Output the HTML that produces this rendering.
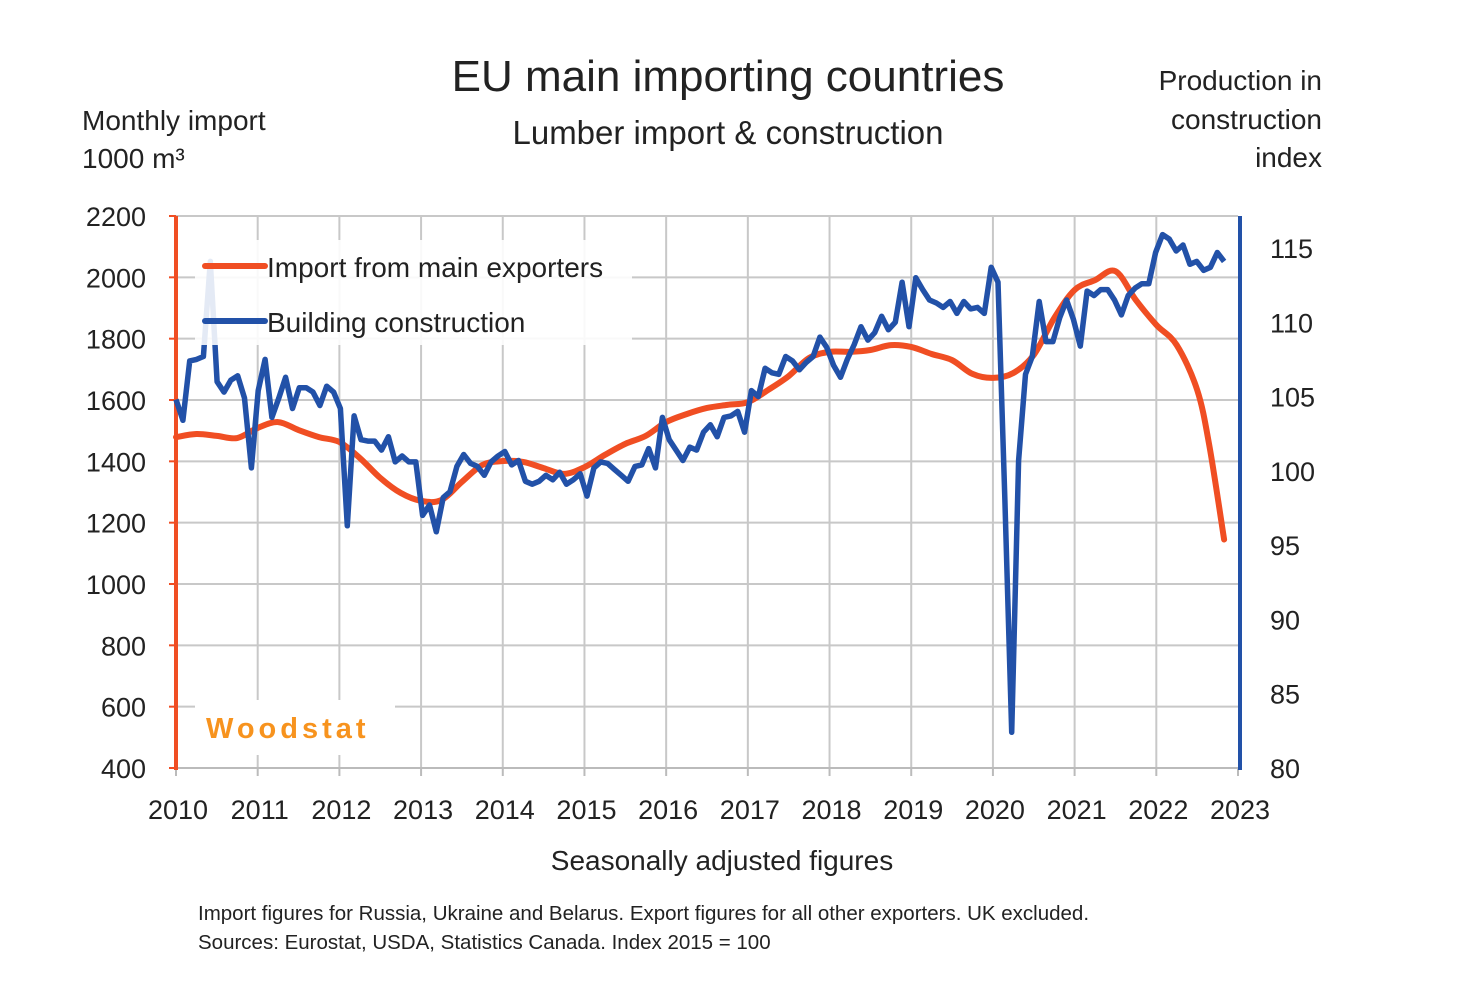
<!DOCTYPE html>
<html><head><meta charset="utf-8"><style>
body{margin:0;background:#fff;}
svg text{font-family:"Liberation Sans",sans-serif;fill:#222;}
</style></head><body>
<svg id="c" width="1479" height="988" viewBox="0 0 1479 988" xmlns="http://www.w3.org/2000/svg">
<text x="728" y="91" font-size="44" text-anchor="middle">EU main importing countries</text>
<text x="728" y="144" font-size="33" text-anchor="middle">Lumber import &amp; construction</text>
<text x="82" y="130" font-size="28">Monthly import</text>
<text x="82" y="168" font-size="28">1000 m³</text>
<text x="1322" y="90" font-size="28" text-anchor="end">Production in</text>
<text x="1322" y="129" font-size="28" text-anchor="end">construction</text>
<text x="1322" y="167" font-size="28" text-anchor="end">index</text>
<g id="grid"></g>
<g id="series"></g>
<rect x="195" y="240" width="437" height="105" fill="#fff" fill-opacity="0.88"/>
<line x1="205" y1="266" x2="265" y2="266" stroke="#f04e23" stroke-width="6" stroke-linecap="round"/>
<text x="267" y="277" font-size="28">Import from main exporters</text>
<line x1="205" y1="321" x2="265" y2="321" stroke="#2251a8" stroke-width="6" stroke-linecap="round"/>
<text x="267" y="332" font-size="28">Building construction</text>
<rect x="195" y="700" width="200" height="55" fill="#fff"/>
<text x="206" y="738" font-size="29" font-weight="bold" style="fill:#f7931e;letter-spacing:4px">Woodstat</text>
<text x="722" y="870" font-size="28" text-anchor="middle">Seasonally adjusted figures</text>
<text x="198" y="920" font-size="20.5">Import figures for Russia, Ukraine and Belarus. Export figures for all other exporters. UK excluded.</text>
<text x="198" y="949" font-size="20.5">Sources: Eurostat, USDA, Statistics Canada. Index 2015 = 100</text>
</svg>
<script>
const years=[2010,2011,2012,2013,2014,2015,2016,2017,2018,2019,2020,2021,2022,2023];
const leftTicks=[400,600,800,1000,1200,1400,1600,1800,2000,2200];
const rightTicks=[80,85,90,95,100,105,110,115];
const importYears=[2010,2010.25,2010.5,2010.75,2011,2011.25,2011.5,2011.75,2012,2012.25,2012.5,2012.75,2013,2013.25,2013.5,2013.75,2014,2014.25,2014.5,2014.75,2015,2015.25,2015.5,2015.75,2016,2016.25,2016.5,2016.75,2017,2017.25,2017.5,2017.75,2018,2018.25,2018.5,2018.75,2019,2019.25,2019.5,2019.75,2020,2020.25,2020.5,2020.75,2021,2021.25,2021.5,2021.75,2022,2022.25,2022.5,2022.65,2022.83];
const importValues=[1479,1489,1483,1476,1509,1528,1502,1479,1463,1411,1346,1297,1271,1274,1333,1388,1401,1398,1378,1359,1381,1421,1457,1483,1528,1554,1574,1584,1593,1633,1678,1737,1757,1757,1763,1779,1773,1750,1730,1685,1672,1688,1747,1867,1959,1991,2020,1926,1845,1779,1633,1450,1145];
const constructionStart=2010, constructionEnd=2022.83;
const constructionValues=[104.8,103.4,107.4,107.5,107.7,114.1,106,105.3,106.1,106.4,104.9,100.2,105.4,107.5,103.6,104.9,106.3,104.2,105.6,105.6,105.3,104.4,105.7,105.3,104.2,96.3,103.7,102.1,102,102,101.4,102.3,100.6,101,100.6,100.6,97,97.7,95.9,98.2,98.6,100.3,101.1,100.5,100.3,99.7,100.6,101,101.3,100.4,100.7,99.3,99.1,99.3,99.7,99.4,99.9,99.1,99.4,99.8,98.3,100.2,100.6,100.5,100.1,99.7,99.3,100.3,100.4,101.5,100.2,103.6,102.1,101.4,100.7,101.6,101.4,102.6,103.1,102.3,103.6,103.7,104,102.6,105.4,105,106.9,106.6,106.5,107.7,107.4,106.8,107.3,107.7,109,108.3,107.1,106.3,107.5,108.5,109.7,108.8,109.3,110.4,109.5,110,112.7,109.7,113,112.2,111.5,111.3,111,111.4,110.6,111.4,110.9,111,110.6,113.7,112.7,98,82.4,100.7,106.5,107.7,111.4,108.7,108.7,110.3,111.5,110.2,108.4,112.1,111.8,112.2,112.2,111.5,110.5,111.8,112.3,112.6,112.6,114.7,115.9,115.6,114.8,115.2,113.9,114.1,113.5,113.7,114.7,114.1];
const X=y=>176+(y-2010)*(1238-176)/13;
const YL=v=>768-(v-400)*(552/1800);
const YR=v=>768-(v-80)*(520/35);
const NS="http://www.w3.org/2000/svg";
function mk(tag,attrs,parent){const e=document.createElementNS(NS,tag);for(const k in attrs)e.setAttribute(k,attrs[k]);parent.appendChild(e);return e;}
const g=document.getElementById('grid'),s=document.getElementById('series');
leftTicks.forEach(v=>{
  if(v>400){const l=mk('line',{x1:176,x2:1238,y1:YL(v),y2:YL(v),stroke:'#c8c8c8','stroke-width':2},g);
  
  }
  const tk=mk('line',{x1:169,x2:176,y1:YL(v),y2:YL(v),stroke:'#f04e23','stroke-width':2},g);
  
  
  const t=mk('text',{x:146,y:YL(v)+10,'font-size':27,'text-anchor':'end'},g);t.textContent=v;
  
  
});
rightTicks.forEach(v=>{
  const t=mk('text',{x:1270,y:YR(v)+10,'font-size':27},g);t.textContent=v;
  
  
});
years.forEach(y=>{
  if(y>2010&&y<2023){const l=mk('line',{x1:X(y),x2:X(y),y1:216,y2:768,stroke:'#c8c8c8','stroke-width':2},g);
  
  }
  const tk=mk('line',{x1:X(y),x2:X(y),y1:768,y2:776,stroke:'#bbb','stroke-width':2},g);
  
  
  const t=mk('text',{x:X(y)+2,y:819,'font-size':27,'text-anchor':'middle'},g);t.textContent=y;
  
  
});
const xa=mk('line',{x1:176,x2:1238,y1:768,y2:768,stroke:'#bbb','stroke-width':2},g);


const la=mk('line',{x1:176,x2:176,y1:216,y2:770,stroke:'#f04e23','stroke-width':4},g);


const ra=mk('line',{x1:1240,x2:1240,y1:216,y2:770,stroke:'#2251a8','stroke-width':4},g);


const op=importYears.map((y,i)=>[X(y),YL(importValues[i])]);
let d='M'+op[0][0]+','+op[0][1];
for(let i=0;i<op.length-1;i++){const p0=op[Math.max(0,i-1)],p1=op[i],p2=op[i+1],p3=op[Math.min(op.length-1,i+2)];
 d+=` C${p1[0]+(p2[0]-p0[0])/6},${p1[1]+(p2[1]-p0[1])/6} ${p2[0]-(p3[0]-p1[0])/6},${p2[1]-(p3[1]-p1[1])/6} ${p2[0]},${p2[1]}`;}
const o=mk('path',{d:d,fill:'none',stroke:'#f04e23','stroke-width':6,'stroke-linecap':'round','stroke-linejoin':'round'},s);


const n=constructionValues.length;
const bp=constructionValues.map((v,i)=>X(constructionStart+i*(constructionEnd-constructionStart)/(n-1)).toFixed(1)+','+YR(v).toFixed(1)).join(' ');
const b=mk('polyline',{points:bp,fill:'none',stroke:'#2251a8','stroke-width':5.5,'stroke-linejoin':'round'},s);


</script>
</body></html>
